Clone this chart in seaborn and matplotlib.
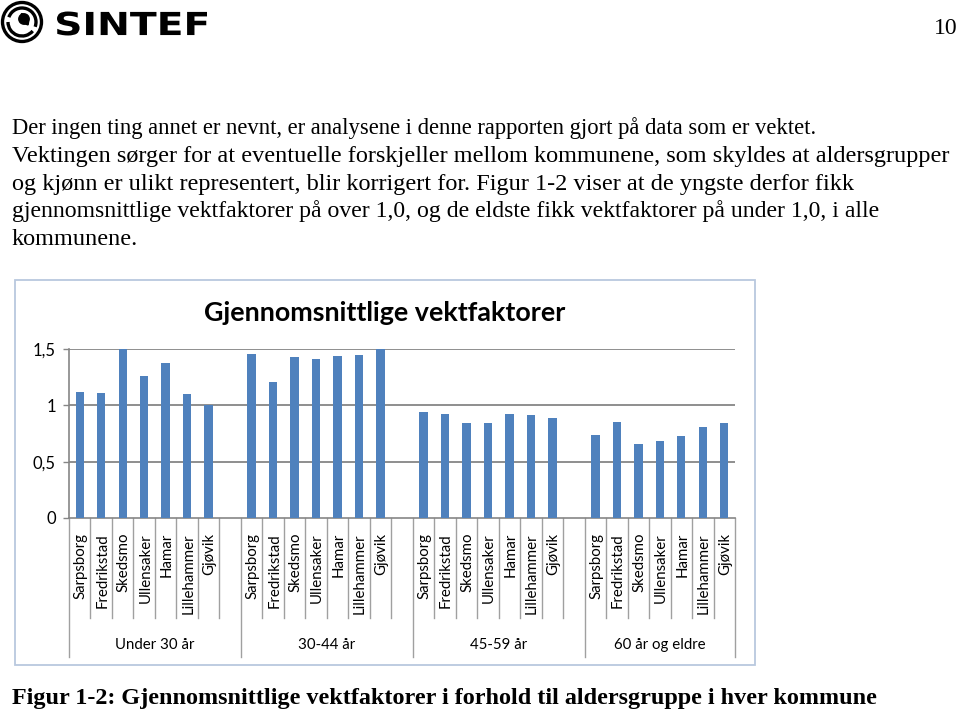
import numpy as np
import pandas as pd
import matplotlib
matplotlib.use("Agg")
import matplotlib.pyplot as plt
import seaborn as sns
from matplotlib.patches import Rectangle, Circle, Arc, PathPatch, Wedge
from matplotlib.textpath import TextPath
from matplotlib.font_manager import FontProperties
from matplotlib.transforms import Affine2D, blended_transform_factory

# ---------------- data ----------------
age_groups = ["Under 30 år", "30-44 år", "45-59 år", "60 år og eldre"]
municipalities = ["Sarpsborg", "Fredrikstad", "Skedsmo", "Ullensaker",
                  "Hamar", "Lillehammer", "Gjøvik"]
under_30 = [1.12, 1.11, 1.55, 1.26, 1.38, 1.10, 1.00]
age_30_44 = [1.46, 1.21, 1.43, 1.41, 1.44, 1.45, 1.53]
age_45_59 = [0.94, 0.92, 0.84, 0.84, 0.92, 0.91, 0.89]
age_60_plus = [0.74, 0.85, 0.66, 0.68, 0.73, 0.81, 0.84]
y_ticks = [0, 0.5, 1, 1.5]
y_tick_labels = ["0", "0,5", "1", "1,5"]
chart_title = "Gjennomsnittlige vektfaktorer"

paragraph = [
    "Der ingen ting annet er nevnt, er analysene i denne rapporten gjort på data som er vektet.",
    "Vektingen sørger for at eventuelle forskjeller mellom kommunene, som skyldes at aldersgrupper",
    "og kjønn er ulikt representert, blir korrigert for. Figur 1-2 viser at de yngste derfor fikk",
    "gjennomsnittlige vektfaktorer på over 1,0, og de eldste fikk vektfaktorer på under 1,0, i alle",
    "kommunene.",
]
line_sizes = [16.3, 17.45, 17.45, 17.1, 17.45]
caption = "Figur 1-2: Gjennomsnittlige vektfaktorer i forhold til aldersgruppe i hver kommune"
page_number = "10"

series = [under_30, age_30_44, age_45_59, age_60_plus]

# build long table and slot order (a blank slot after each group but the last)
rows = []
order = []
for gi, (g, vals) in enumerate(zip(age_groups, series)):
    for m, v in zip(municipalities, vals):
        key = f"{g}|{m}"
        rows.append({"slot": key, "group": g, "kommune": m, "value": v})
        order.append(key)
    if gi < len(age_groups) - 1:
        order.append(f"{g}|")
df = pd.DataFrame(rows)
pos = {s: i for i, s in enumerate(order)}

# ---------------- figure ----------------
W, H = 960, 712
fig = plt.figure(figsize=(W / 100, H / 100), dpi=100)
fig.patch.set_facecolor("white")

# overlay in pixel coordinates for page decorations
ov = fig.add_axes([0, 0, 1, 1], zorder=0)
ov.set_xlim(0, W)
ov.set_ylim(H, 0)
ov.axis("off")

# chart frame
ov.add_patch(Rectangle((15, 280), 740, 385, fill=False, edgecolor="#B9C8DE", lw=1.3))

# SINTEF logo
ov.add_patch(Circle((22, 22), 19.5, fill=False, edgecolor="black", lw=2.4))
ov.add_patch(Arc((22, 22), 28, 28, theta1=200, theta2=20, edgecolor="black", lw=2.4))
ov.add_patch(Arc((22, 22), 28, 28, theta1=40, theta2=180, edgecolor="black", lw=2.4))
ov.add_patch(Circle((24, 19), 5.2, color="black"))
ov.add_patch(Wedge((20, 22), 8.5, 280, 20, width=3.2, color="black"))
tp = TextPath((0, 0), "SINTEF", size=1, prop=FontProperties(family="DejaVu Sans", weight="bold"))
bb = tp.get_extents()
tr = (Affine2D().translate(-bb.x0, -bb.y0)
      .scale(150 / bb.width, -24 / bb.height).translate(57, 35.5))
ov.add_patch(PathPatch(tp, transform=tr + ov.transData, color="black", lw=0))

serif = "Liberation Serif"
ov.text(958, 34, page_number, ha="right", va="baseline", family=serif, fontsize=17)
for i, (line, fs) in enumerate(zip(paragraph, line_sizes)):
    ov.text(12, 134 + i * 27.8, line, ha="left", va="baseline", family=serif, fontsize=fs)
ov.text(12, 704, caption, ha="left", va="baseline", family=serif, fontsize=17.4, weight="bold")

# ---------------- chart ----------------
ax = fig.add_axes([69 / W, 1 - 518 / H, 666 / W, 169 / H], zorder=1)
ax.patch.set_alpha(0)
sns.barplot(data=df, x="slot", y="value", order=order, color="#4F81BD",
            saturation=1, width=0.39, errorbar=None, ax=ax, zorder=3)
ax.set_xlim(-0.5, len(order) - 0.5)
ax.set_ylim(0, 1.5)
ax.set_yticks(y_ticks)
ax.set_yticklabels(y_tick_labels, family="Lato", fontsize=12)
ax.set_xlabel("")
ax.set_ylabel("")
ax.tick_params(axis="x", length=0, labelbottom=False)
ax.tick_params(axis="y", length=4.5, width=1, color="#868686", pad=5)
for y in y_ticks[1:]:
    ax.axhline(y, color="#868686", lw=1.3, zorder=1)
for s in ["top", "right"]:
    ax.spines[s].set_visible(False)
for s in ["left", "bottom"]:
    ax.spines[s].set_color("#868686")
    ax.spines[s].set_linewidth(1.2)

blend = blended_transform_factory(ax.transData, ax.transAxes)
px = 1 / 169.0
# municipality labels
for _, r in df.iterrows():
    ax.text(pos[r["slot"]] + 0.05, -15 * px, r["kommune"], transform=blend, rotation=90,
            ha="center", va="top", family="Lato", fontsize=10.8, color="black")
# separators
group_bounds = [-0.5]
for gi, g in enumerate(age_groups):
    last = max(pos[f"{g}|{m}"] for m in municipalities)
    end = last + 1.5 if gi < len(age_groups) - 1 else last + 0.5
    group_bounds.append(end)
for i in range(len(order) + 1):
    x = i - 0.5
    long = any(abs(x - b) < 1e-9 for b in group_bounds)
    ybot = -139 * px if long else -100 * px
    ax.plot([x, x], [0, ybot], transform=blend, color="#A0A0A0", lw=1,
            clip_on=False, zorder=2)
for gi, g in enumerate(age_groups):
    cx = (group_bounds[gi] + group_bounds[gi + 1]) / 2
    ax.text(cx, -127 * px, g, transform=blend, ha="center", va="center",
            family="Lato", fontsize=10.8, color="black")

fig.text(385 / W, 1 - 313 / H, chart_title, ha="center", va="center",
         family="Lato", weight="bold", fontsize=19.4)

fig.savefig("out.png", dpi=100)
